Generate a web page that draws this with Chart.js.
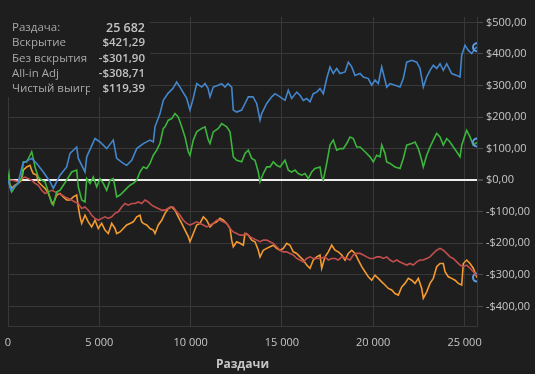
<!DOCTYPE html>
<html>
<head>
<meta charset="utf-8">
<script src="https://cdn.jsdelivr.net/npm/chart.js@4.4.1/dist/chart.umd.min.js"></script>
<style>
  html, body { margin: 0; padding: 0; background: #1e1e1e; }
  #wrap { width: 535px; height: 374px; }
</style>
</head>
<body>
<div id="wrap"><canvas id="myChart" width="535" height="374"></canvas></div>
<script>
// hands played (x) and results in $ (y)
const blueHands = [0,164,548,821,1298,1572,1933,2300,2481,2848,3214,3395,3762,3850,4217,4310,4764,5038,5405,5766,5952,6314,6500,6774,7048,7409,7776,7957,8050,8324,8504,8762,9035,9238,9419,9583,9786,9966,10147,10333,10607,10788,10952,11062,11242,11516,11702,11883,12047,12250,12338,12524,12797,12978,13159,13416,13619,13800,13893,14167,14440,14621,14895,15169,15349,15535,15809,15990,16171,16357,16538,16718,16904,17085,17266,17452,17633,17813,17999,18180,18454,18635,18821,19002,19276,19457,19730,19916,20097,20278,20464,20645,20738,20918,21192,21466,21647,21833,22107,22381,22561,22742,22928,23109,23289,23475,23656,23837,24023,24297,24571,24752,24845,25025,25206,25392,25573,25682];
const blueValues = [0,-32,-9,54,69,53,26,-5,-26,16,42,85,105,69,26,74,132,121,100,127,69,53,47,63,100,116,127,121,169,211,253,275,291,311,295,279,259,222,260,306,295,306,291,264,295,301,306,295,306,295,222,216,222,243,264,264,243,190,211,243,264,274,264,253,285,259,279,269,253,259,248,274,279,290,274,322,359,338,354,338,343,374,359,332,338,327,322,301,317,306,359,317,295,306,301,295,322,374,380,374,354,295,327,348,364,354,369,348,369,338,332,327,396,427,411,401,417,421.29];

const greenHands = [0,55,110,203,383,564,750,838,1024,1205,1298,1385,1479,1659,1845,2026,2207,2393,2481,2667,2848,3028,3214,3488,3762,3850,4036,4217,4310,4490,4671,4857,5038,5219,5405,5586,5766,5859,5952,6133,6314,6500,6681,6861,7048,7228,7409,7595,7776,7957,8143,8324,8504,8598,8778,8964,9145,9326,9512,9693,9873,9966,10147,10333,10607,10788,10969,11062,11242,11516,11702,11976,12157,12338,12524,12797,12978,13159,13345,13526,13706,13800,13980,14167,14347,14528,14714,14895,15169,15349,15535,15716,15897,16083,16264,16444,16630,16811,17085,17178,17266,17452,17633,17813,17999,18180,18361,18547,18728,18909,19095,19276,19550,19823,20004,20190,20371,20464,20645,20738,20918,21192,21466,21647,21833,22107,22288,22469,22654,22742,22928,23109,23289,23475,23656,23837,24023,24204,24385,24571,24752,24845,25025,25118,25299,25480,25682];
const greenValues = [0,19,-21,-37,-21,-10,10,58,58,79,90,69,42,10,0,-5,-37,-74,-79,-37,-32,-16,0,26,32,-21,-63,-69,5,-10,10,-21,5,-10,-32,0,5,-21,-53,-47,-37,-26,-16,-10,0,26,42,37,53,79,95,117,164,169,190,195,211,200,169,137,90,79,127,153,164,169,127,116,153,164,179,169,153,74,63,58,85,95,69,63,26,-5,21,42,42,58,47,42,63,32,26,32,21,16,21,5,26,37,42,10,0,53,111,127,95,100,100,116,137,132,105,105,90,74,58,79,74,111,85,58,53,42,37,69,111,116,121,100,63,42,79,105,127,148,137,111,132,121,105,90,74,111,142,158,137,111,119.39];

const redHands = [0,274,564,750,931,1112,1298,1479,1659,1845,2026,2207,2393,2574,2754,2941,3121,3302,3488,3669,3850,4036,4217,4397,4583,4764,4945,5131,5312,5492,5679,5859,6040,6226,6407,6588,6774,6955,7135,7321,7502,7683,7869,8050,8230,8417,8597,8871,9052,9238,9419,9599,9786,9966,10147,10333,10514,10695,10881,11062,11242,11428,11609,11790,11976,12157,12338,12524,12705,12885,13071,13252,13433,13619,13800,13980,14167,14347,14528,14714,14895,15075,15262,15442,15623,15809,15990,16171,16357,16538,16718,16904,17085,17359,17540,17726,17907,18087,18273,18547,18728,18909,19095,19276,19457,19643,19823,20004,20190,20371,20552,20738,20918,21099,21285,21466,21647,21833,22014,22195,22381,22561,22742,22928,23109,23289,23475,23656,23837,24023,24204,24385,24571,24752,24933,25118,25299,25480,25682];
const redValues = [0,0,-5,5,10,5,0,-10,-16,-32,-42,-37,-32,-37,-42,-47,-53,-58,-63,-69,-74,-90,-85,-95,-111,-121,-127,-121,-116,-121,-116,-105,-100,-85,-74,-79,-74,-74,-69,-74,-63,-69,-79,-85,-90,-95,-95,-85,-85,-100,-111,-127,-137,-142,-137,-132,-137,-142,-148,-142,-137,-127,-127,-132,-137,-153,-164,-169,-174,-174,-169,-179,-185,-190,-195,-190,-190,-195,-200,-211,-222,-227,-227,-232,-237,-248,-253,-259,-248,-243,-248,-248,-248,-243,-253,-248,-248,-253,-243,-248,-253,-237,-232,-232,-237,-243,-248,-248,-243,-243,-248,-243,-253,-259,-253,-259,-264,-269,-264,-269,-259,-253,-253,-248,-243,-232,-222,-216,-222,-232,-243,-248,-259,-269,-274,-269,-279,-290,-301.9];

const orangeHands = [0,203,383,564,750,838,1024,1205,1298,1385,1572,1659,1845,2026,2207,2393,2481,2667,2848,3028,3214,3395,3576,3762,3850,3943,4036,4217,4397,4583,4764,4945,5131,5312,5492,5679,5859,5952,6133,6314,6500,6681,6861,7048,7228,7321,7409,7595,7776,7957,8050,8230,8417,8597,8778,8964,9145,9326,9512,9693,9873,9966,10147,10333,10514,10695,10881,11062,11242,11428,11609,11790,11976,12157,12250,12338,12524,12705,12885,12978,13159,13345,13526,13706,13800,13980,14167,14347,14528,14714,14895,15075,15262,15442,15623,15809,15990,16171,16357,16538,16718,16904,17085,17178,17359,17540,17726,17907,18087,18273,18454,18635,18821,19002,19183,19369,19550,19730,19916,20097,20278,20464,20645,20826,21012,21192,21373,21559,21740,21921,22107,22288,22469,22654,22742,22928,23109,23289,23475,23656,23837,23930,24111,24297,24478,24659,24845,24933,25118,25299,25480,25682];
const orangeValues = [0,-26,-16,-10,0,32,42,47,32,21,16,-5,-16,-26,-42,-69,-74,-47,-42,-53,-63,-63,-53,-47,-85,-116,-137,-111,-132,-148,-127,-153,-137,-158,-169,-137,-153,-169,-164,-153,-142,-137,-132,-116,-111,-132,-137,-142,-153,-158,-169,-142,-127,-105,-90,-85,-95,-116,-137,-158,-179,-195,-169,-142,-137,-116,-127,-148,-137,-132,-121,-127,-137,-153,-190,-211,-195,-200,-206,-169,-174,-190,-195,-222,-243,-222,-216,-211,-206,-216,-222,-216,-200,-206,-227,-232,-243,-253,-269,-279,-253,-243,-237,-279,-243,-227,-206,-222,-227,-237,-253,-232,-222,-232,-253,-274,-290,-306,-317,-301,-311,-322,-332,-343,-348,-359,-364,-338,-327,-311,-317,-327,-311,-343,-374,-354,-327,-311,-274,-264,-264,-290,-306,-311,-317,-327,-332,-264,-253,-264,-279,-308.71];

const xTicks = [0, 5000, 10000, 15000, 20000, 25000];
const yTicks = [-400, -300, -200, -100, 0, 100, 200, 300, 400, 500];

const infoLabels = ["Раздача:", "Вскрытие", "Без вскрытия", "All-in Adj", "Чистый выигрыш"];
const infoValues = ["25 682", "$421,29", "-$301,90", "-$308,71", "$119,39"];

const totalHands = 25682;
const bg = "#1e1e1e";
const gridColor = "#383838";
const textColor = "#c6c6c6";

function toPoints(xs, ys) {
  let pts = [];
  for (let i = 0; i < xs.length; i++) {
    pts.push({ x: xs[i], y: ys[i] });
  }
  return pts;
}

function money(v) {
  let s = "$" + Math.abs(v).toFixed(2).replace(".", ",");
  return v < 0 ? "-" + s : s;
}

function thousands(v) {
  return String(v).replace(/\B(?=(\d{3})+(?!\d))/g, " ");
}

// ring marker only on the last point
function endRing(n) {
  return (ctx) => (ctx.dataIndex === n - 1 ? 4 : 0);
}

const background = {
  id: "background",
  beforeDraw(chart) {
    const ctx = chart.ctx;
    ctx.save();
    ctx.fillStyle = bg;
    ctx.fillRect(0, 0, chart.width, chart.height);
    ctx.restore();
  },
};

const infoBox = {
  id: "infoBox",
  beforeDatasetsDraw(chart) {
    const ctx = chart.ctx;
    ctx.save();
    ctx.fillStyle = bg;
    ctx.fillRect(0, 0, 150, 97);
    ctx.textBaseline = "middle";
    for (let i = 0; i < infoLabels.length; i++) {
      const y = 28 + i * 15.2;
      ctx.save();
      ctx.beginPath();
      ctx.rect(0, 0, 90, 120);
      ctx.clip();
      ctx.font = '11.5px "Open Sans"';
      ctx.fillStyle = "#a8a8a8";
      ctx.textAlign = "left";
      ctx.fillText(infoLabels[i], 12, y);
      ctx.restore();
      ctx.font = i === 0 ? '600 12.5px "Open Sans"' : '600 11.5px "Open Sans"';
      ctx.fillStyle = "#c2c2c2";
      ctx.textAlign = "right";
      ctx.fillText(infoValues[i], 145, y);
    }
    ctx.restore();
  },
};

Chart.defaults.font.family = '"Open Sans", sans-serif';

let chart1 = document.getElementById("myChart").getContext("2d");
const myChart = new Chart(chart1, {
  type: "line",
  data: {
    datasets: [
      {
        label: "Вскрытие",
        data: toPoints(blueHands, blueValues),
        borderColor: "#4386cc",
        borderWidth: 1.6,
        pointRadius: endRing(blueHands.length),
        pointBorderColor: "#5b9be0",
        pointBackgroundColor: "rgba(0,0,0,0)",
        pointBorderWidth: 2,
      },
      {
        label: "Чистый выигрыш",
        data: toPoints(greenHands, greenValues),
        borderColor: "#3cb53c",
        borderWidth: 1.6,
        pointRadius: endRing(greenHands.length),
        pointBorderColor: "#5b9be0",
        pointBackgroundColor: "rgba(0,0,0,0)",
        pointBorderWidth: 2,
      },
      {
        label: "Без вскрытия",
        data: toPoints(redHands, redValues),
        borderColor: "#c24e4e",
        borderWidth: 1.6,
        pointRadius: 0,
      },
      {
        label: "All-in Adj",
        data: toPoints(orangeHands, orangeValues),
        borderColor: "#f39a30",
        borderWidth: 1.6,
        pointRadius: endRing(orangeHands.length),
        pointBorderColor: "#5b9be0",
        pointBackgroundColor: "rgba(0,0,0,0)",
        pointBorderWidth: 2,
      },
    ],
  },
  options: {
    responsive: false,
    animation: false,
    layout: { padding: { left: 8, right: 0, top: 17, bottom: 0 } },
    plugins: {
      legend: { display: false },
      tooltip: { enabled: false },
    },
    elements: { line: { tension: 0 } },
    scales: {
      x: {
        type: "linear",
        min: 0,
        max: totalHands,
        ticks: {
          color: textColor,
          font: { size: 11 },
          padding: 10,
          maxRotation: 0,
          autoSkip: false,
          callback: (v) => thousands(v),
        },
        afterBuildTicks: (scale) => {
          scale.ticks = xTicks.map((v) => ({ value: v }));
        },
        afterFit: (scale) => {
          scale.height = 48;
          scale.paddingLeft = 0;
          scale.paddingRight = 0;
        },
        grid: { color: gridColor, drawTicks: false },
        border: { color: gridColor },
        title: {
          display: true,
          text: "Раздачи",
          color: textColor,
          font: { size: 12, weight: "bold" },
          padding: { top: 0, bottom: 2 },
        },
      },
      y: {
        position: "right",
        min: -462,
        max: 517,
        ticks: {
          color: textColor,
          font: { size: 11 },
          padding: 3,
          autoSkip: false,
          callback: (v) => money(v),
        },
        afterBuildTicks: (scale) => {
          scale.ticks = yTicks.map((v) => ({ value: v }));
        },
        afterFit: (scale) => {
          scale.width = 58;
        },
        grid: {
          color: (c) => (c.tick && c.tick.value === 0 ? "#eeeeee" : gridColor),
          lineWidth: (c) => (c.tick && c.tick.value === 0 ? 2 : 1),
          tickColor: "#4a4a4a",
          tickLength: 6,
        },
        border: { color: gridColor },
      },
    },
  },
  plugins: [background, infoBox],
});
</script>
</body>
</html>
